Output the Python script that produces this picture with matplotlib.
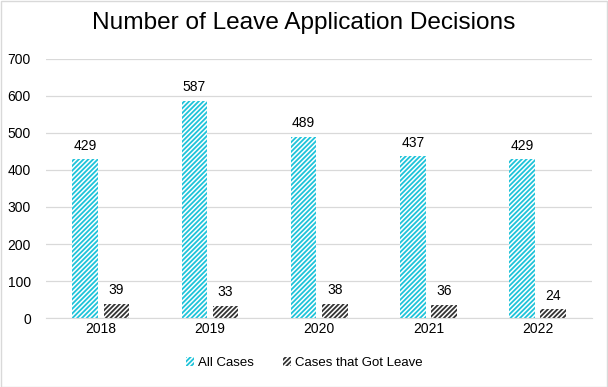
import matplotlib
matplotlib.use('Agg')
import matplotlib.pyplot as plt
import numpy as np

plt.rcParams['font.family'] = ['Liberation Sans', 'DejaVu Sans']
plt.rcParams['hatch.linewidth'] = 1.3

# Datos
years = ['2018', '2019', '2020', '2021', '2022']
all_cases = [429, 587, 489, 437, 429]
got_leave = [39, 33, 38, 36, 24]

cyan = '#1FC3D9'
dark = '#333333'

fig = plt.figure(figsize=(6.08, 3.87), dpi=100)
ax = fig.add_axes([0.076, 0.178, 0.898, 0.67])

x = np.arange(len(years))
w = 0.235
gap = 0.05

b1 = ax.bar(x - w / 2 - gap / 2, all_cases, w, facecolor='white', edgecolor=cyan,
            hatch='///////', linewidth=0, label='All Cases')
b2 = ax.bar(x + w / 2 + gap / 2, got_leave, w, facecolor='white', edgecolor=dark,
            hatch='///////', linewidth=0, label='Cases that Got Leave')

# Etiquetas de valores
for rect, v in zip(b1, all_cases):
    ax.text(rect.get_x() + rect.get_width() / 2, v + 18, f'{v}', ha='center', va='bottom', fontsize=10)
for rect, v in zip(b2, got_leave):
    ax.text(rect.get_x() + rect.get_width() / 2, v + 18, f'{v}', ha='center', va='bottom', fontsize=10)

ax.set_ylim(0, 700)
ax.set_xlim(-0.5, len(years) - 0.5)
ax.set_yticks(range(0, 701, 100))
ax.set_xticks(x)
ax.set_xticklabels(years)
ax.tick_params(axis='both', length=0, labelsize=10, colors='#000000')
ax.tick_params(axis='y', pad=11)
ax.tick_params(axis='x', pad=3)
ax.yaxis.grid(True, color='#D9D9D9', linewidth=0.9)
ax.set_axisbelow(True)
for s in ['top', 'right', 'left']:
    ax.spines[s].set_visible(False)
ax.spines['bottom'].set_color('#D9D9D9')

fig.suptitle('Number of Leave Application Decisions', fontsize=17.6, y=0.97)

fig.legend(handles=[b1, b2], loc='lower center', bbox_to_anchor=(0.5, 0.015), ncol=2,
           frameon=False, fontsize=9.5, handlelength=0.6, handleheight=0.6,
           handletextpad=0.3, columnspacing=2.2)

fig.patches.append(plt.Rectangle((0.001, 0.001), 0.997, 0.997, transform=fig.transFigure,
                                 fill=False, edgecolor='#D9D9D9', linewidth=1))

fig.savefig('out.png', dpi=100)
